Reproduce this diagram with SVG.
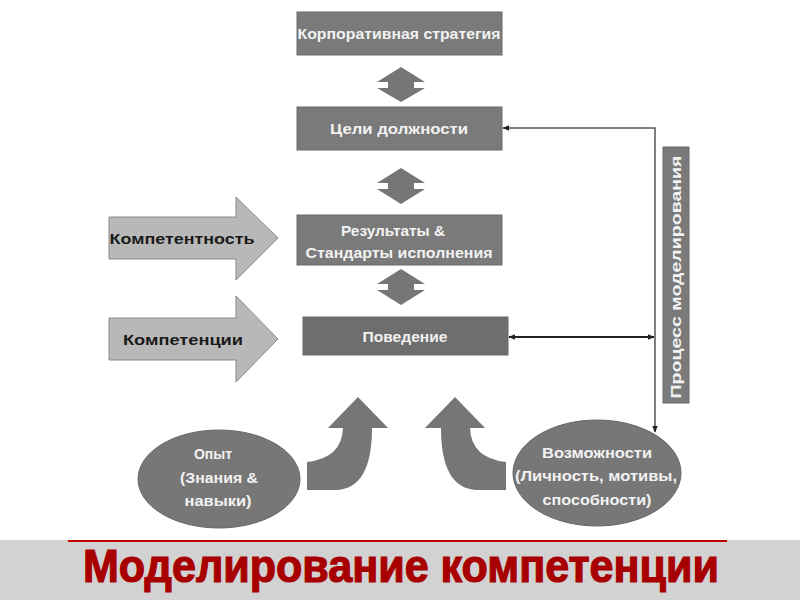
<svg xmlns="http://www.w3.org/2000/svg" width="800" height="600" viewBox="0 0 800 600">
<defs>
<style>
.box{fill:#7a7a7a;stroke:#6a6a6a;stroke-width:1}
.bt{font-family:"Liberation Sans",Arial,sans-serif;font-weight:bold;font-size:14px;fill:#f2f2f2;text-anchor:middle}
.dt{font-family:"Liberation Sans",Arial,sans-serif;font-weight:bold;font-size:15px;fill:#1a1a1a;text-anchor:middle}
.big{fill:#b8b8b8;stroke:#8a8a8a;stroke-width:1}
.dbl{fill:#767676}
.ln{stroke:#555;stroke-width:1.5;fill:none}
</style>
<marker id="ah" viewBox="0 0 10 10" refX="9" refY="5" markerWidth="7" markerHeight="7" orient="auto-start-reverse" markerUnits="userSpaceOnUse">
<path d="M0,1 L10,5 L0,9 Z" fill="#222"/>
</marker>
</defs>
<rect x="0" y="0" width="800" height="600" fill="#ffffff"/>
<rect x="0" y="540" width="800" height="60" fill="#d2d2d2"/>
<line x1="68" y1="541" x2="727" y2="541" stroke="#c00000" stroke-width="2"/>
<text x="401" y="582" font-family="'Liberation Sans',Arial,sans-serif" font-weight="bold" font-size="46" fill="#a80000" stroke="#a80000" stroke-width="1.2" text-anchor="middle" textLength="636" lengthAdjust="spacingAndGlyphs">Моделирование компетенции</text>

<g id="connectors">
<path class="ln" d="M655,432 L655,128 L503,128" marker-end="url(#ah)" marker-start="url(#ah)"/>
<line class="ln" x1="509" y1="337" x2="654" y2="337" marker-start="url(#ah)" marker-end="url(#ah)" style="stroke:#222;stroke-width:2"/>
<path class="dbl" d="M401,67 L425,82 L414,82 L414,88 L425,88 L401,102 L377,88 L388,88 L388,82 L377,82 Z"/>
<path class="dbl" d="M401,168 L425,183 L414,183 L414,189 L425,189 L401,204 L377,189 L388,189 L388,183 L377,183 Z"/>
<path class="dbl" d="M401,269 L425,284 L414,284 L414,290 L425,290 L401,305 L377,290 L388,290 L388,284 L377,284 Z"/>
<path class="dbl" d="M307,490 L307,462 Q342,458 343,428 L328,428 L358,397 L388,428 L372,428 Q372,488 337,490 Z"/>
<path class="dbl" d="M506,490 L506,462 Q471,458 470,428 L485,428 L455,397 L425,428 L441,428 Q441,488 476,490 Z"/>
</g>

<g id="n-strategy">
<rect class="box" x="297" y="12" width="205" height="43"/>
<text class="bt" x="399" y="39" textLength="203" lengthAdjust="spacingAndGlyphs">Корпоративная стратегия</text>
</g>
<g id="n-goals">
<rect class="box" x="297" y="107" width="205" height="43"/>
<text class="bt" x="399" y="134" textLength="138" lengthAdjust="spacingAndGlyphs">Цели должности</text>
</g>
<g id="n-results">
<rect class="box" x="297" y="215" width="205" height="50"/>
<text class="bt" x="393" y="236" textLength="104" lengthAdjust="spacingAndGlyphs">Результаты &amp;</text>
<text class="bt" x="399" y="258" textLength="187" lengthAdjust="spacingAndGlyphs">Стандарты исполнения</text>
</g>
<g id="n-behavior">
<rect class="box" x="303" y="317" width="205" height="38" style="fill:#6e6e6e"/>
<text class="bt" x="405" y="342" textLength="85" lengthAdjust="spacingAndGlyphs">Поведение</text>
</g>
<g id="n-process">
<rect class="box" x="663" y="147" width="26" height="256"/>
<text class="bt" transform="translate(681,277) rotate(-90)" textLength="243" lengthAdjust="spacingAndGlyphs">Процесс моделирования</text>
</g>
<g id="n-competence">
<path class="big" d="M109,217 L236,217 L236,197 L278,238 L236,280 L236,259 L109,259 Z"/>
<text class="dt" x="182" y="244" textLength="145" lengthAdjust="spacingAndGlyphs">Компетентность</text>
</g>
<g id="n-competencies">
<path class="big" d="M109,318 L236,318 L236,296 L278,339 L236,382 L236,360 L109,360 Z"/>
<text class="dt" x="183" y="345" textLength="120" lengthAdjust="spacingAndGlyphs">Компетенции</text>
</g>
<g id="n-experience">
<ellipse cx="219" cy="479" rx="81" ry="49" fill="#777" stroke="#666"/>
<text class="bt" x="213" y="459">Опыт</text>
<text class="bt" x="219" y="483" textLength="78" lengthAdjust="spacingAndGlyphs">(Знания &amp;</text>
<text class="bt" x="218" y="506" textLength="67" lengthAdjust="spacingAndGlyphs">навыки)</text>
</g>
<g id="n-abilities">
<ellipse cx="597" cy="473" rx="84" ry="53" fill="#777" stroke="#666"/>
<text class="bt" x="597" y="458" textLength="110" lengthAdjust="spacingAndGlyphs">Возможности</text>
<text class="bt" x="596" y="481" textLength="162" lengthAdjust="spacingAndGlyphs">(Личность, мотивы,</text>
<text class="bt" x="597" y="505" textLength="109" lengthAdjust="spacingAndGlyphs">способности)</text>
</g>
</svg>
